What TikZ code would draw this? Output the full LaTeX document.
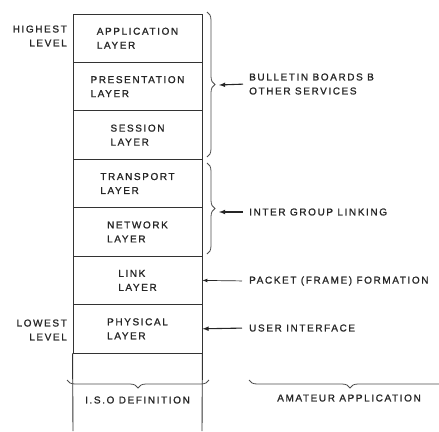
\documentclass[tikz,border=0pt]{standalone}
\usepackage{fontspec}
\setmainfont{Liberation Sans}[LetterSpace=16, FakeBold=1.2]
\usetikzlibrary{decorations.pathreplacing}
\begin{document}
\begin{tikzpicture}[x=1pt,y=-1pt,
    every node/.style={font=\fontsize{10}{14}\selectfont, text=black!85, inner sep=2pt},
    layer/.style={draw=black!80, line width=0.9pt, minimum width=129pt, minimum height=48.43pt, align=left},
    bracket/.style={draw=black!70, line width=0.8pt, decorate, decoration={brace, amplitude=8pt}},
    pointer/.style={draw=black!85, line width=1.1pt, -latex}]
                \useasboundingbox (0,0) rectangle (439,431);%

                % Drawing layer boxes
                \node [layer] (app) at (137.5,38.2) {APPLICATION\\LAYER};%
                \node [layer] (pres) at (137.5,86.6) {PRESENTATION\\LAYER};%
                \node [layer] (sess) at (137.5,135.1) {SESSION\\LAYER};%
                \node [layer] (trans) at (137.5,183.5) {TRANSPORT\\LAYER};%
                \node [layer] (net) at (137.5,231.9) {NETWORK\\LAYER};%
                \node [layer] (link) at (137.5,280.4) {LINK\\LAYER};%
                \node [layer] (phy) at (137.5,328.8) {PHYSICAL\\LAYER};%

                % Drawing open bottom of column
                \coordinate (colbl) at (73,431);%
                \coordinate (colbr) at (202,431);%
                \draw [black!80, line width=0.9pt] (phy.south west) -- (colbl);%
                \draw [black!80, line width=0.9pt] (phy.south east) -- (colbr);%

                % Marking levels
                \node [anchor=east, align=right] (high) at (69,36) {HIGHEST\\LEVEL};%
                \node [anchor=east, align=right] (low) at (69,330) {LOWEST\\LEVEL};%

                % Drawing braces right of column
                \draw [bracket] (207,12) -- (207,157);%
                \coordinate (tipsvc) at (219,85);%
                \draw [bracket] (207,163) -- (207,254);%
                \coordinate (tiplink) at (219,212);%

                % Drawing braces at the bottom
                \draw [bracket] (209,380) -- (67,380);%
                \node (iso) at (137.5,400) {I.S.O DEFINITION};%
                \draw [bracket] (451,380) -- (249,380);%
                \node (amat) at (349,398) {AMATEUR APPLICATION};%

                % Drawing side notes
                \node [anchor=west, align=left] (svc) at (247,84) {BULLETIN BOARDS B\\OTHER SERVICES};%
                \draw [pointer, shorten <=4pt] (svc.west) -- (tipsvc);%
                \node [anchor=west] (grp) at (247,212) {INTER GROUP LINKING};%
                \draw [pointer, shorten <=4pt] (grp.west) -- (tiplink);%
                \node [anchor=west] (pkt) at (247,281) {PACKET (FRAME) FORMATION};%
                \draw [pointer, line width=0.7pt, shorten <=5pt] (pkt.west) -- (link.east);%
                \node [anchor=west] (usr) at (247,328) {USER INTERFACE};%
                \draw [pointer, shorten <=5pt] (usr.west) -- (phy.east);%
            \end{tikzpicture}
\end{document}
